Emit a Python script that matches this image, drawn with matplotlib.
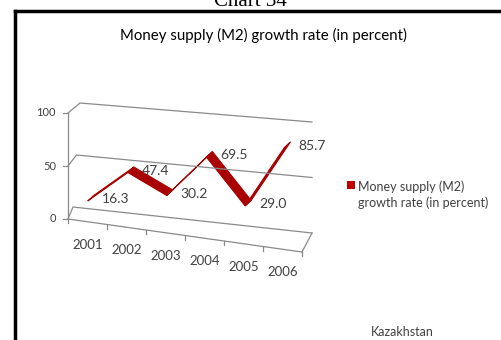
import numpy as np
import matplotlib.pyplot as plt
from matplotlib.patches import Polygon, Rectangle

years = ['2001', '2002', '2003', '2004', '2005', '2006']
m2_growth = [16.3, 47.4, 30.2, 69.5, 29.0, 85.7]
value_ticks = [0, 50, 100]
title = 'Money supply (M2) growth rate (in percent)'
series_name = 'Money supply (M2)\ngrowth rate (in percent)'
country = 'Kazakhstan'

RIBBON = '#A80000'
GRID = '#8a8a8a'
TEXT = '#404040'
N = len(years)
RIBBON_DEPTH = np.array([6.0, -5.5])   # screen offset of the ribbon's back edge


def project(i, v, d):
    """Map (category position, value, depth 0=front..1=back) to pixel space."""
    t = (np.asarray(i, float) + 0.5) / N
    v = np.asarray(v, float)
    fx = 68 + 234 * t
    fy = (219 - 1.06 * v) * (1 - t) + (252 - 1.13 * v) * t
    bx = (73 + 0.07 * v) * (1 - t) + 312 * t
    by = (207 - 1.04 * v) * (1 - t) + (233 - 1.11 * v) * t
    return fx + (bx - fx) * d, fy + (by - fy) * d


fig = plt.figure(figsize=(5.01, 3.40), dpi=100)
ax = fig.add_axes([0, 0, 1, 1])
ax.set_xlim(0, 501)
ax.set_ylim(340, 0)
ax.axis('off')

edges = np.array([-0.5, N - 0.5])

# value gridlines: along left wall then across back wall
for v in value_ticks:
    x0, y0 = project(-0.5, v, 0)
    xs, ys = project(edges, v, 1)
    ax.plot([x0, xs[0], xs[1]], [y0, ys[0], ys[1]], color=GRID, lw=0.9)

# value axis (front-left edge) with ticks and labels
xa, ya = project(-0.5, [0, max(value_ticks)], 0)
ax.plot(xa, ya, color=GRID, lw=0.9)
for v in value_ticks:
    x, y = project(-0.5, v, 0)
    ax.plot([x - 5, x], [y, y], color=GRID, lw=0.9)
    ax.text(x - 12, y, str(v), ha='right', va='center', fontsize=8,
            family='Lato', color=TEXT)

# floor: front category axis and right edge
xs, ys = project(edges, 0, 0)
ax.plot(xs, ys, color=GRID, lw=0.9)
xr, yr = project(N - 0.5, 0, np.array([0, 1]))
ax.plot(xr, yr, color=GRID, lw=0.9)
for b in np.arange(-0.5, N, 1.0):
    x, y = project(b, 0, 0)
    ax.plot([x, x], [y, y + 4], color=GRID, lw=0.9)

for i, yr_label in enumerate(years):
    x, y = project(i, 0, 0)
    ax.text(x, y + 23, yr_label, ha='center', va='center', fontsize=9.5,
            family='Lato', color=TEXT)

# 3D ribbon for the series, centred in the box depth
pos = np.arange(N)
mx, my = project(pos, m2_growth, 0.5)
fx, fy = mx - RIBBON_DEPTH[0] / 2, my - RIBBON_DEPTH[1] / 2
bx, by = mx + RIBBON_DEPTH[0] / 2, my + RIBBON_DEPTH[1] / 2
for k in range(N - 1):
    poly = Polygon([(fx[k], fy[k]), (fx[k + 1], fy[k + 1]),
                    (bx[k + 1], by[k + 1]), (bx[k], by[k])],
                   closed=True, facecolor=RIBBON, edgecolor=RIBBON, lw=0.8)
    ax.add_patch(poly)

# data labels
for x, y, v in zip(mx, my, m2_growth):
    ax.text(x + 11, y + 1, f'{v:.1f}', ha='left', va='center', fontsize=10,
            family='Lato', color=TEXT)

# title, legend and caption
ax.text(263, 35, title, ha='center', va='center', fontsize=10.8,
        family='Lato', color='black')
ax.add_patch(Rectangle((347, 181), 8, 8, facecolor='#C00000', edgecolor='none'))
ax.text(358, 195, series_name, ha='left', va='center', fontsize=9,
        family='Lato', color=TEXT, linespacing=1.35)
ax.text(402, 332, country, ha='center', va='center', fontsize=9,
        family='Lato', color=TEXT)

# page frame with the cut-off chart caption above it
ax.plot([15, 501], [11, 11], color='black', lw=2.5, solid_capstyle='projecting')
ax.plot([15, 15], [11, 340], color='black', lw=2.5, solid_capstyle='projecting')
ax.text(250, 6, 'Chart 34', ha='center', va='baseline', fontsize=15,
        family='Liberation Serif', color='black')

fig.savefig('out.png', dpi=100)
